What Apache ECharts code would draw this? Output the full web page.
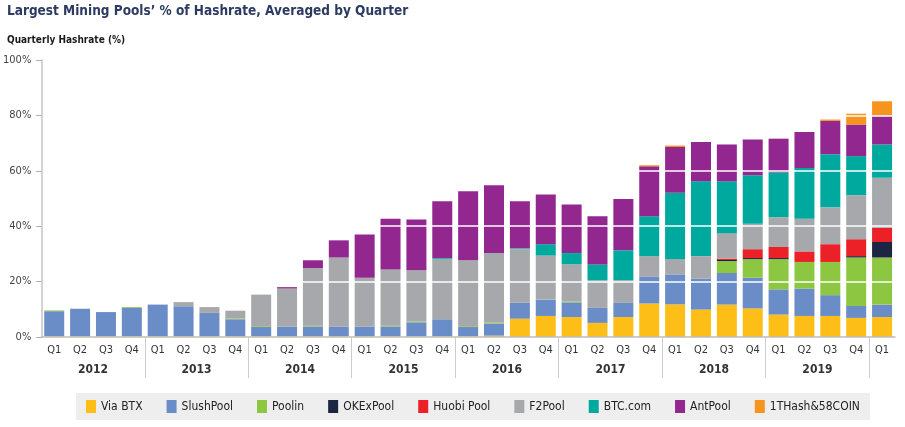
<!DOCTYPE html>
<html>
<head>
<meta charset="utf-8">
<script src="https://cdn.jsdelivr.net/npm/echarts@6/dist/echarts.min.js"></script>
<style>html,body{margin:0;padding:0;background:#fff;}#c{width:905px;height:427px;}</style>
</head>
<body>
<div id="c"></div>
<script>
const FONT = "'Liberation Sans Narrow','DejaVu Sans Condensed','Roboto',sans-serif";
const years = ['2012','2013','2014','2015','2016','2017','2018','2019'];
const categories = [
  '2012 Q1','2012 Q2','2012 Q3','2012 Q4',
  '2013 Q1','2013 Q2','2013 Q3','2013 Q4',
  '2014 Q1','2014 Q2','2014 Q3','2014 Q4',
  '2015 Q1','2015 Q2','2015 Q3','2015 Q4',
  '2016 Q1','2016 Q2','2016 Q3','2016 Q4',
  '2017 Q1','2017 Q2','2017 Q3','2017 Q4',
  '2018 Q1','2018 Q2','2018 Q3','2018 Q4',
  '2019 Q1','2019 Q2','2019 Q3','2019 Q4',
  '2020 Q1'
];
const yTicks = [0, 20, 40, 60, 80, 100];

const viaBTX    = [0.3,0.3,0.3,0.3, 0.3,0.3,0.3,0.3, 0.3,0.3,0.3,0.3, 0.3,0.3,0.3,0.3, 0.3,0.5,6.6,7.6, 7.2,5.1,7.2,12.1, 11.8,9.9,11.7,10.3, 8.1,7.6,7.6,6.9, 7.2];
const slushPool = [9.0,9.9,8.7,10.2, 11.4,10.8,8.4,6.1, 3.3,3.5,3.5,3.5, 3.5,3.5,5.0,6.1, 3.3,4.3,5.8,5.9, 5.3,5.4,5.1,9.6, 10.8,11.2,11.4,11.1, 9.1,9.9,7.5,4.3, 4.5];
const poolin    = [0.3,0,0,0.3, 0,0,0,0.3, 0.3,0,0.3,0, 0,0.3,0.3,0, 0.3,0.3,0,0, 0.3,0,0,0, 0,0,4.3,6.7, 10.9,9.6,12.0,17.5, 17.0];
const okexPool  = [0,0,0,0, 0,0,0,0, 0,0,0,0, 0,0,0,0, 0,0,0,0, 0,0,0,0, 0,0,0.4,0.4, 0.4,0,0,0.5, 5.6];
const huobiPool = [0,0,0,0, 0,0,0,0, 0,0,0,0, 0,0,0,0, 0,0,0,0, 0,0,0,0, 0,0,0.5,3.2, 4.0,3.8,6.4,6.1, 5.1];
const f2Pool    = [0,0,0,0, 0,1.5,2.1,2.8, 11.4,13.7,20.8,24.9, 17.6,20.3,18.5,21.8, 23.8,25.2,19.3,15.9, 13.5,10.0,8.2,7.5, 5.5,8.1,9.2,9.2, 10.7,11.8,13.3,15.9, 18.1];
const btcCom    = [0,0,0,0, 0,0,0,0, 0,0,0,0, 0,0,0,0.3, 0,0,0.3,4.1, 4.0,5.7,10.8,14.4, 24.0,27.0,18.7,17.5, 16.2,18.3,19.2,14.1, 12.0];
const antPool   = [0,0,0,0, 0,0,0,0, 0,0.5,2.8,6.2, 15.6,18.3,18.3,20.5, 24.9,24.5,17.0,17.9, 17.5,17.4,18.5,18.0, 16.5,14.2,13.3,12.9, 12.2,13.0,12.0,11.4, 10.5];
const thash58   = [0,0,0,0, 0,0,0,0, 0,0,0,0, 0,0,0,0, 0,0,0,0, 0,0,0,0.4, 0.5,0,0,0, 0,0,0.5,3.9, 5.1];

const seriesDefs = [
  ['Via BTX', viaBTX, '#fdbf17'],
  ['SlushPool', slushPool, '#6a8cc7'],
  ['Poolin', poolin, '#8dc641'],
  ['OKExPool', okexPool, '#1c2541'],
  ['Huobi Pool', huobiPool, '#ec2027'],
  ['F2Pool', f2Pool, '#a7a8ab'],
  ['BTC.com', btcCom, '#00a99d'],
  ['AntPool', antPool, '#92278f'],
  ['1THash&58COIN', thash58, '#f7941d']
];

const yearSlots = Array.from({length: categories.length + 1}, (_, i) => String(i));

const chart = echarts.init(document.getElementById('c'), null, {renderer: 'canvas'});
chart.setOption({
  animation: false,
  backgroundColor: '#ffffff',
  textStyle: {fontFamily: FONT},
  title: [
    {text: 'Largest Mining Pools\u2019 % of Hashrate, Averaged by Quarter', left: 7, top: 4, padding: 0,
     textStyle: {fontFamily: FONT, fontSize: 13.5, fontWeight: 'bold', color: '#2d3a62'}},
    {text: 'Quarterly Hashrate (%)', left: 7, top: 35, padding: 0,
     textStyle: {fontFamily: FONT, fontSize: 10, fontWeight: 'bold', color: '#1a1a1a'}}
  ],
  legend: {
    bottom: 7, left: 76,
    icon: 'rect', itemWidth: 10, itemHeight: 13, itemGap: 24,
    backgroundColor: '#eeeeee', padding: [7, 10],
    textStyle: {fontFamily: FONT, fontSize: 12, color: '#222'},
    data: seriesDefs.map(d => d[0])
  },
  grid: {left: 40, right: 10, top: 60, bottom: 90, containLabel: false},
  xAxis: [
    {
      type: 'category', data: categories, gridIndex: 0,
      axisLine: {show: true, lineStyle: {color: '#bdbdbd', width: 1.5}},
      axisTick: {show: false},
      axisLabel: {interval: 0, margin: 8, fontSize: 11, color: '#333', fontFamily: FONT,
        formatter: v => v.split(' ')[1]},
      z: 8
    },
    {
      type: 'category', data: yearSlots, gridIndex: 0, position: 'bottom', boundaryGap: false,
      axisLine: {show: false},
      axisTick: {show: true, length: 41, lineStyle: {color: '#cccccc', width: 1},
        interval: (i) => i > 0 && i % 4 === 0 && i <= 32},
      axisLabel: {interval: 0, margin: 27, fontSize: 12, fontWeight: 'bold', color: '#333', fontFamily: FONT,
        formatter: v => { const i = +v; return (i % 4 === 2 && i < 32) ? years[(i - 2) / 4] : ''; }},
      splitLine: {show: false},
      z: 8
    }
  ],
  yAxis: {
    type: 'value', min: yTicks[0], max: yTicks[yTicks.length - 1], interval: 20,
    axisLine: {show: true, lineStyle: {color: '#c4c4c4', width: 1.5}},
    axisTick: {show: true, length: 5, lineStyle: {color: '#aaaaaa'}},
    axisLabel: {margin: 10, fontSize: 11, color: '#444', fontFamily: FONT, formatter: '{value}%'},
    splitLine: {show: true, showMinLine: false, showMaxLine: false, lineStyle: {color: '#ffffff', width: 1.5}},
    z: 6
  },
  series: seriesDefs.map(d => ({
    name: d[0], type: 'bar', stack: 'total', data: d[1], barWidth: 20,
    xAxisIndex: 0, yAxisIndex: 0,
    itemStyle: {color: d[2]},
    emphasis: {disabled: true}
  }))
});
</script>
</body>
</html>
